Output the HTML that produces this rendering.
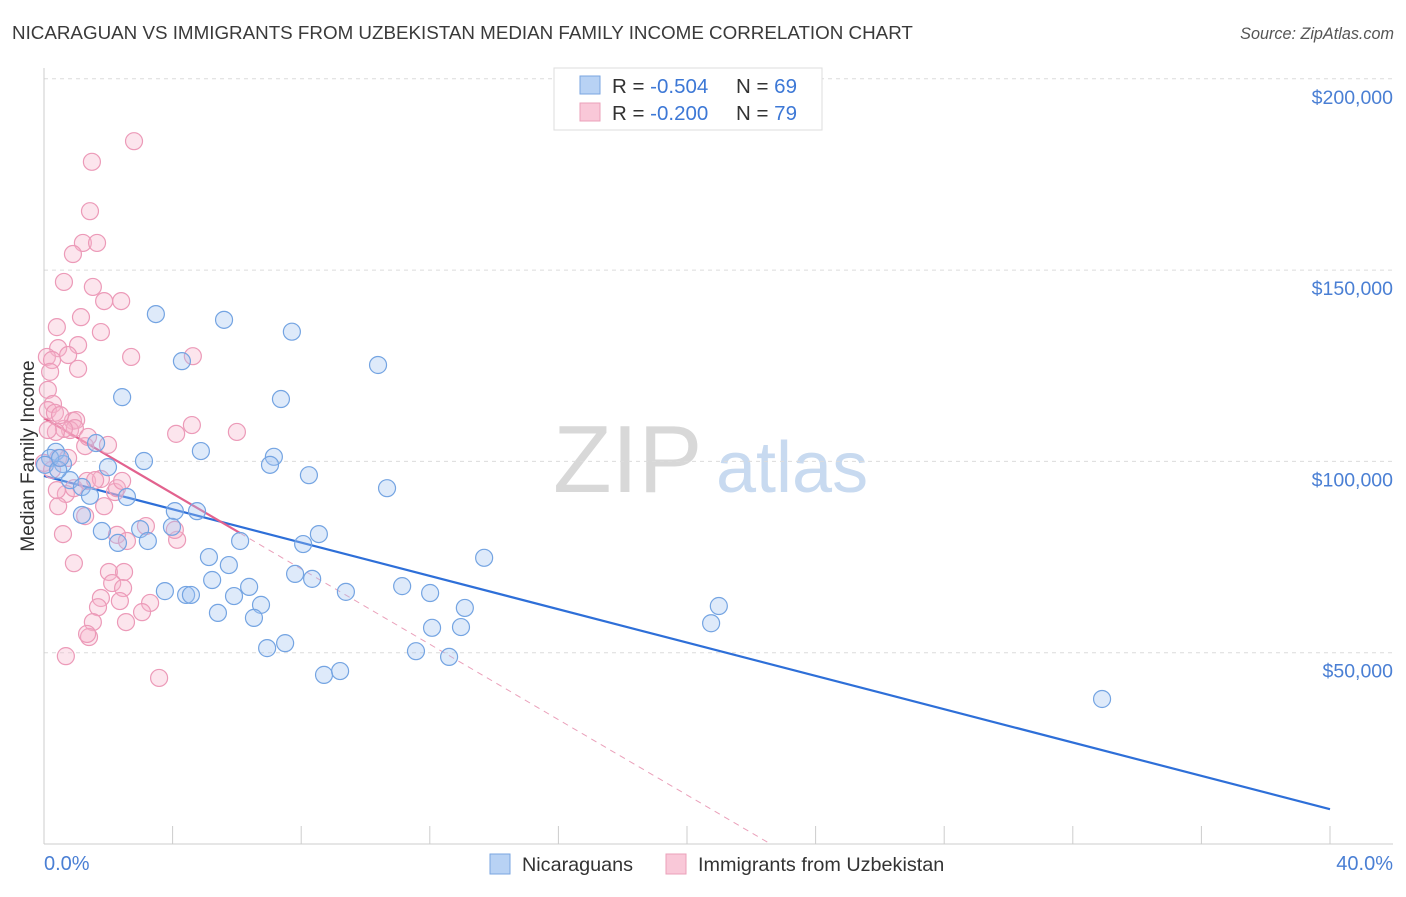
<!DOCTYPE html>
<html><head><meta charset="utf-8"><style>
body{margin:0;background:#fff;font-family:"Liberation Sans",sans-serif}
svg text{font-family:"Liberation Sans",sans-serif}
</style></head><body>
<svg id="chart" width="1406" height="892" xmlns="http://www.w3.org/2000/svg">
<text x="12" y="39" font-size="18.8" fill="#3a3a3a">NICARAGUAN VS IMMIGRANTS FROM UZBEKISTAN MEDIAN FAMILY INCOME CORRELATION CHART</text>
<text x="1394" y="39" font-size="16.2" fill="#555" text-anchor="end" font-style="italic">Source: ZipAtlas.com</text>
<g>
<text x="553" y="492" font-size="96" font-family="Liberation Serif" fill="#d8d8d8">ZIP</text>
<text x="716" y="492" font-size="72" fill="#c8daf0">atlas</text>
</g>
<g id="grid"></g><g id="axes"></g><g id="lines"></g><g id="pts"></g>
<text transform="translate(34,456) rotate(-90)" font-size="19" fill="#333" text-anchor="middle">Median Family Income</text>
<text x="44" y="870" font-size="20" fill="#4a7fd4">0.0%</text>
<text x="1393" y="870" font-size="20" fill="#4a7fd4" text-anchor="end">40.0%</text>
<g>
<rect x="554" y="68" width="268" height="62" fill="#fff" stroke="#ddd"/>
<rect x="580" y="76" width="20" height="18" fill="#b8d2f4" stroke="#7aa6e0"/>
<rect x="580" y="103" width="20" height="18" fill="#f9c8d8" stroke="#eba0ba"/>
<text x="612" y="93" font-size="20.5" fill="#333">R = <tspan fill="#3d78d6">-0.504</tspan></text>
<text x="736" y="93" font-size="20.5" fill="#333">N = <tspan fill="#3d78d6">69</tspan></text>
<text x="612" y="120" font-size="20.5" fill="#333">R = <tspan fill="#3d78d6">-0.200</tspan></text>
<text x="736" y="120" font-size="20.5" fill="#333">N = <tspan fill="#3d78d6">79</tspan></text>
</g>
<g>
<rect x="490" y="854" width="20" height="20" fill="#b8d2f4" stroke="#7aa6e0"/>
<text x="522" y="871" font-size="19.8" fill="#333">Nicaraguans</text>
<rect x="666" y="854" width="20" height="20" fill="#f9c8d8" stroke="#eba0ba"/>
<text x="698" y="871" font-size="19.8" fill="#333">Immigrants from Uzbekistan</text>
</g>
</svg>
<script>
const blueX=[3.48,5.60,7.71,4.29,10.39,2.43,7.37,4.88,3.11,7.15,7.03,1.62,0.37,0.59,1.99,0.19,8.24,10.67,0.81,1.18,1.43,2.58,4.76,4.07,1.18,1.80,2.99,3.98,2.30,3.23,6.10,8.06,8.55,13.69,5.13,5.75,5.23,7.81,8.34,6.38,11.14,9.39,12.01,3.76,4.42,4.57,5.91,6.75,13.09,5.41,6.53,12.07,12.97,20.99,20.75,7.50,6.94,11.57,12.60,8.71,9.21,32.91,0.03,0.44,0.50];
const blueY=[138.5,137.0,133.9,126.2,125.2,116.8,116.3,102.7,100.1,101.2,99.1,104.8,102.5,99.3,98.5,100.9,96.4,93.0,95.1,93.3,91.0,90.7,87.0,87.0,86.0,81.8,82.3,82.9,78.7,79.2,79.2,78.4,81.0,74.8,75.0,72.9,69.0,70.6,69.3,67.2,67.4,65.9,65.6,66.1,65.1,65.1,64.8,62.5,61.7,60.4,59.1,56.5,56.7,62.2,57.7,52.5,51.2,50.4,48.9,44.2,45.2,37.9,99.1,97.8,100.9];
const pinkX=[2.80,1.49,1.43,1.21,1.65,0.90,0.62,1.52,1.87,2.40,1.15,0.40,1.77,0.44,1.06,0.75,0.09,0.25,2.71,4.63,1.06,0.19,0.12,0.28,0.12,0.34,0.90,1.00,0.81,0.96,0.62,0.37,1.28,1.37,4.11,6.00,4.60,0.44,0.75,0.00,0.68,0.93,0.44,1.34,1.28,1.77,2.21,2.27,2.43,0.59,1.87,2.27,2.58,3.17,4.14,0.93,2.02,2.49,2.12,2.46,1.77,1.68,2.36,3.30,3.05,2.55,1.52,1.40,1.34,0.68,3.58,0.40,0.25,0.50,0.12,1.59,1.99,4.07];
const pinkY=[183.7,178.3,165.4,157.1,157.1,154.2,146.9,145.6,141.9,141.9,137.7,135.1,133.8,129.6,130.4,127.8,127.3,126.5,127.3,127.5,124.2,123.4,118.7,115.0,113.4,112.7,110.6,110.8,108.2,108.7,108.5,107.7,104.0,106.4,107.2,107.7,109.5,100.9,100.9,99.6,91.5,93.0,88.3,94.9,85.7,95.4,92.0,93.0,94.9,81.0,88.3,80.8,79.2,83.1,79.5,73.4,71.1,71.1,68.2,66.9,64.3,61.9,63.5,63.0,60.6,58.0,58.0,54.1,54.9,49.1,43.4,92.5,97.8,112.1,108.2,95.1,104.3,82.1];
const yTicks=[50,100,150,200];
const yTickLabels=["$50,000","$100,000","$150,000","$200,000"];
const blueTrend=[96.2,9.1];   // value (k) at 0% and 40%
const pinkTrend=[111.3,22.6]; // value (k) at 0%, x-intercept (%)
const NS="http://www.w3.org/2000/svg";
const X0=44,X1=1330,Y0=844,PXK=3.826;
const xs=v=>X0+v/40*(X1-X0), ys=v=>Y0-v*PXK;
function mk(p,t,a){const e=document.createElementNS(NS,t);for(const k in a)e.setAttribute(k,a[k]);document.getElementById(p).appendChild(e);return e;}
yTicks.forEach((t,i)=>{
 const g=mk('grid','line',{x1:44,x2:1393,y1:ys(t),y2:ys(t),stroke:'#dcdcdc','stroke-dasharray':'4,4'});
 
 
 const l=mk('grid','text',{x:1393,y:ys(t)+25,'font-size':19.5,fill:'#4a7fd4','text-anchor':'end'});
 l.textContent=yTickLabels[i];
 
 
});
const ax=mk('axes','line',{x1:44,x2:1393,y1:Y0,y2:Y0,stroke:'#ccc'});


const ay=mk('axes','line',{x1:44,x2:44,y1:68,y2:Y0,stroke:'#ccc'});


for(let i=0;i<=10;i++){const t=mk('axes','line',{x1:xs(i*4),x2:xs(i*4),y1:826,y2:Y0,stroke:'#ccc'});
 
 }
function dot(x,y,f,s,n){const c=mk('pts','circle',{cx:xs(x),cy:ys(y),r:8.5,fill:f,stroke:s,'stroke-width':1.2});
 
 }
pinkX.forEach((x,i)=>dot(x,pinkY[i],'rgba(246,180,204,0.35)','#ec9ab8','uzbekistan-point'));
blueX.forEach((x,i)=>dot(x,blueY[i],'rgba(160,196,240,0.35)','#74a4e2','nicaraguan-point'));
const bl=mk('lines','line',{x1:xs(0),y1:ys(blueTrend[0]),x2:xs(40),y2:ys(blueTrend[1]),stroke:'#2e6fd8','stroke-width':2.2});


const pyAt=x=>pinkTrend[0]-x*(pinkTrend[0]/pinkTrend[1]);
const pl=mk('lines','line',{x1:xs(0),y1:ys(pyAt(0)),x2:xs(6.1),y2:ys(pyAt(6.1)),stroke:'#e2628e','stroke-width':2.2});


const pd=mk('lines','line',{x1:xs(6.1),y1:ys(pyAt(6.1)),x2:xs(pinkTrend[1]),y2:ys(0),stroke:'#eaa0ba','stroke-width':1,'stroke-dasharray':'6,5'});


</script>
</body></html>
